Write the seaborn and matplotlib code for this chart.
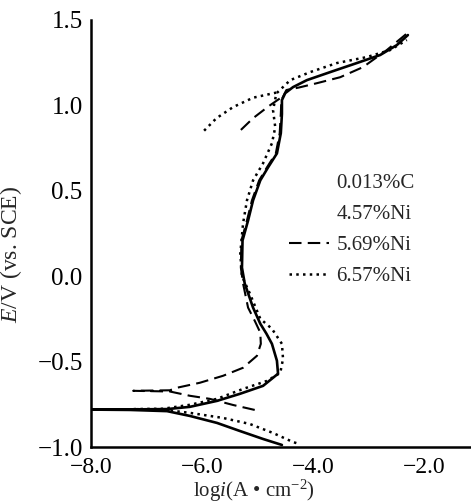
import numpy as np
import pandas as pd
import matplotlib
matplotlib.use("Agg")
import matplotlib.pyplot as plt
from matplotlib.lines import Line2D
import seaborn as sns

# ---------------- data ----------------
# 4.57%Ni (solid)
ni457_logi = [-4.56, -4.90, -5.32, -5.73, -6.22, -6.63, -7.30, -8.00,
              -7.30, -6.63, -6.22, -5.73, -5.32, -4.90, -4.63, -4.65, -4.74,
              -4.84, -4.95, -5.08, -5.23, -5.28, -5.27, -5.17, -5.08, -4.95,
              -4.81, -4.65, -4.58, -4.56, -4.56, -4.50, -4.36, -4.11, -3.69,
              -3.21, -2.79, -2.49, -2.29]
ni457_E = [-0.988, -0.953, -0.906, -0.859, -0.818, -0.790, -0.783, -0.781,
           -0.780, -0.778, -0.765, -0.730, -0.689, -0.642, -0.571, -0.495, -0.396,
           -0.336, -0.278, -0.184, -0.043, 0.050, 0.209, 0.326, 0.444, 0.561,
           0.637, 0.719, 0.837, 0.950, 1.031, 1.072, 1.107, 1.148, 1.195,
           1.248, 1.295, 1.353, 1.412]

# 5.69%Ni (dashed) main branch
ni569_logi = [-5.05, -5.44, -5.86, -6.22, -6.58, -7.24,
              -6.58, -6.45, -6.04, -5.62, -5.26, -5.01, -4.94, -4.95, -5.05,
              -5.17, -5.26, -5.30, -5.29, -5.19, -5.10, -4.97, -4.83, -4.67,
              -4.60, -4.58, -4.57, -4.48, -4.25, -3.93, -3.51, -3.10, -2.67, -2.29]
ni569_E = [-0.783, -0.754, -0.718, -0.700, -0.675, -0.671,
           -0.668, -0.653, -0.624, -0.583, -0.536, -0.466, -0.396, -0.330, -0.261,
           -0.184, -0.043, 0.050, 0.209, 0.326, 0.444, 0.561, 0.637, 0.719,
           0.837, 0.950, 1.031, 1.090, 1.105, 1.130, 1.165, 1.224, 1.324, 1.426]
# 5.69%Ni reverse branch
ni569r_logi = [-4.60, -4.80, -5.08, -5.32]
ni569r_E = [1.040, 0.995, 0.925, 0.850]

# 6.57%Ni (dotted) main branch
ni657_logi = [-4.30, -4.36, -4.72, -5.14, -5.62, -6.22, -6.70, -7.24,
              -6.70, -6.22, -5.73, -5.26, -4.83, -4.59, -4.54, -4.56, -4.74,
              -4.95, -5.14, -5.28, -5.31, -5.26, -5.19, -5.08, -4.90, -4.74,
              -4.68, -4.72, -4.66, -4.41, -4.05, -3.57, -3.03, -2.61, -2.31]
ni657_E = [-0.977, -0.971, -0.918, -0.865, -0.830, -0.800, -0.782, -0.778,
           -0.776, -0.753, -0.718, -0.660, -0.613, -0.566, -0.484, -0.396, -0.308,
           -0.249, -0.100, 0.000, 0.133, 0.309, 0.444, 0.561, 0.661, 0.778,
           0.872, 0.972, 1.070, 1.148, 1.195, 1.248, 1.283, 1.324, 1.383]
# 6.57%Ni reverse branch
ni657r_logi = [-4.66, -5.08, -5.44, -5.74, -5.98]
ni657r_E = [1.075, 1.045, 0.990, 0.925, 0.846]

legend_labels = ["0.013%C", "4.57%Ni", "5.69%Ni", "6.57%Ni"]
x_ticks = [-8.0, -6.0, -4.0, -2.0]
y_ticks = [-1.0, -0.5, 0.0, 0.5, 1.0, 1.5]

# ---------------- build table ----------------
def frame(x, y, series, branch):
    return pd.DataFrame({"logi": x, "E": y, "series": series, "branch": branch})

df = pd.concat([
    frame(ni457_logi, ni457_E, "4.57%Ni", 0),
    frame(ni569_logi, ni569_E, "5.69%Ni", 0),
    frame(ni569r_logi, ni569r_E, "5.69%Ni", 1),
    frame(ni657_logi, ni657_E, "6.57%Ni", 0),
    frame(ni657r_logi, ni657r_E, "6.57%Ni", 1),
], ignore_index=True)

# ---------------- style ----------------
sns.set_style("white")
plt.rcParams["font.family"] = ["Liberation Serif", "DejaVu Serif"]
plt.rcParams["mathtext.fontset"] = "custom"
plt.rcParams["mathtext.rm"] = "Liberation Serif"
plt.rcParams["mathtext.it"] = "Liberation Serif:italic"
plt.rcParams["axes.unicode_minus"] = True

fig = plt.figure(figsize=(4.71, 5.04), dpi=100)
ax = fig.add_axes([91 / 471, 1 - 447 / 504, 1 - 91 / 471, (447 - 20) / 504])

styles = {
    "4.57%Ni": dict(linestyle="-", linewidth=1.9),
    "5.69%Ni": dict(linestyle=(0, (6, 3)), linewidth=1.5),
    "6.57%Ni": dict(linestyle=(0, (1, 1.7)), linewidth=1.8),
}
for name, st in styles.items():
    sub = df[df["series"] == name]
    sns.lineplot(data=sub, x="logi", y="E", units="branch", estimator=None,
                 sort=False, color="black", ax=ax, legend=False, **st)

ax.set_xlim(-8.0, -8.0 + 380 / 55.5)
ax.set_ylim(-1.0, 1.5)
ax.set_xticks(x_ticks)
ax.set_yticks(y_ticks)
ax.set_xticklabels([f"{v:.1f}".replace("-", "\u2212") for v in x_ticks], fontsize=17)
ax.set_yticklabels([f"{v:.1f}".replace("-", "\u2212") for v in y_ticks], fontsize=18)
ax.tick_params(direction="in", length=4, width=1.2, color="black",
               labelcolor="black")
ax.tick_params(axis="x", pad=7)
ax.tick_params(axis="y", pad=6)
for s in ["top", "right"]:
    ax.spines[s].set_visible(False)
for s in ["left", "bottom"]:
    ax.spines[s].set_color("black")
    ax.spines[s].set_linewidth(1.8)

ax.set_xlabel(r"log$i$(A • cm$^{-2}$)", fontsize=15)
ax.xaxis.set_label_coords(0.43, -0.072)
ax.set_ylabel(r"$E$/V (vs. SCE)", fontsize=17)
ax.yaxis.set_label_coords(-0.175, 0.45)

handles = [
    Line2D([], [], color="none"),
    Line2D([], [], color="none"),
    Line2D([], [], color="black", **styles["5.69%Ni"]),
    Line2D([], [], color="black", **styles["6.57%Ni"]),
]
ax.legend(handles, legend_labels, loc="upper left", bbox_to_anchor=(0.50, 0.66),
          frameon=False, fontsize=15, handlelength=1.9, handletextpad=0.35,
          labelspacing=0.55, borderaxespad=0)

fig.savefig("out.png", dpi=100)
